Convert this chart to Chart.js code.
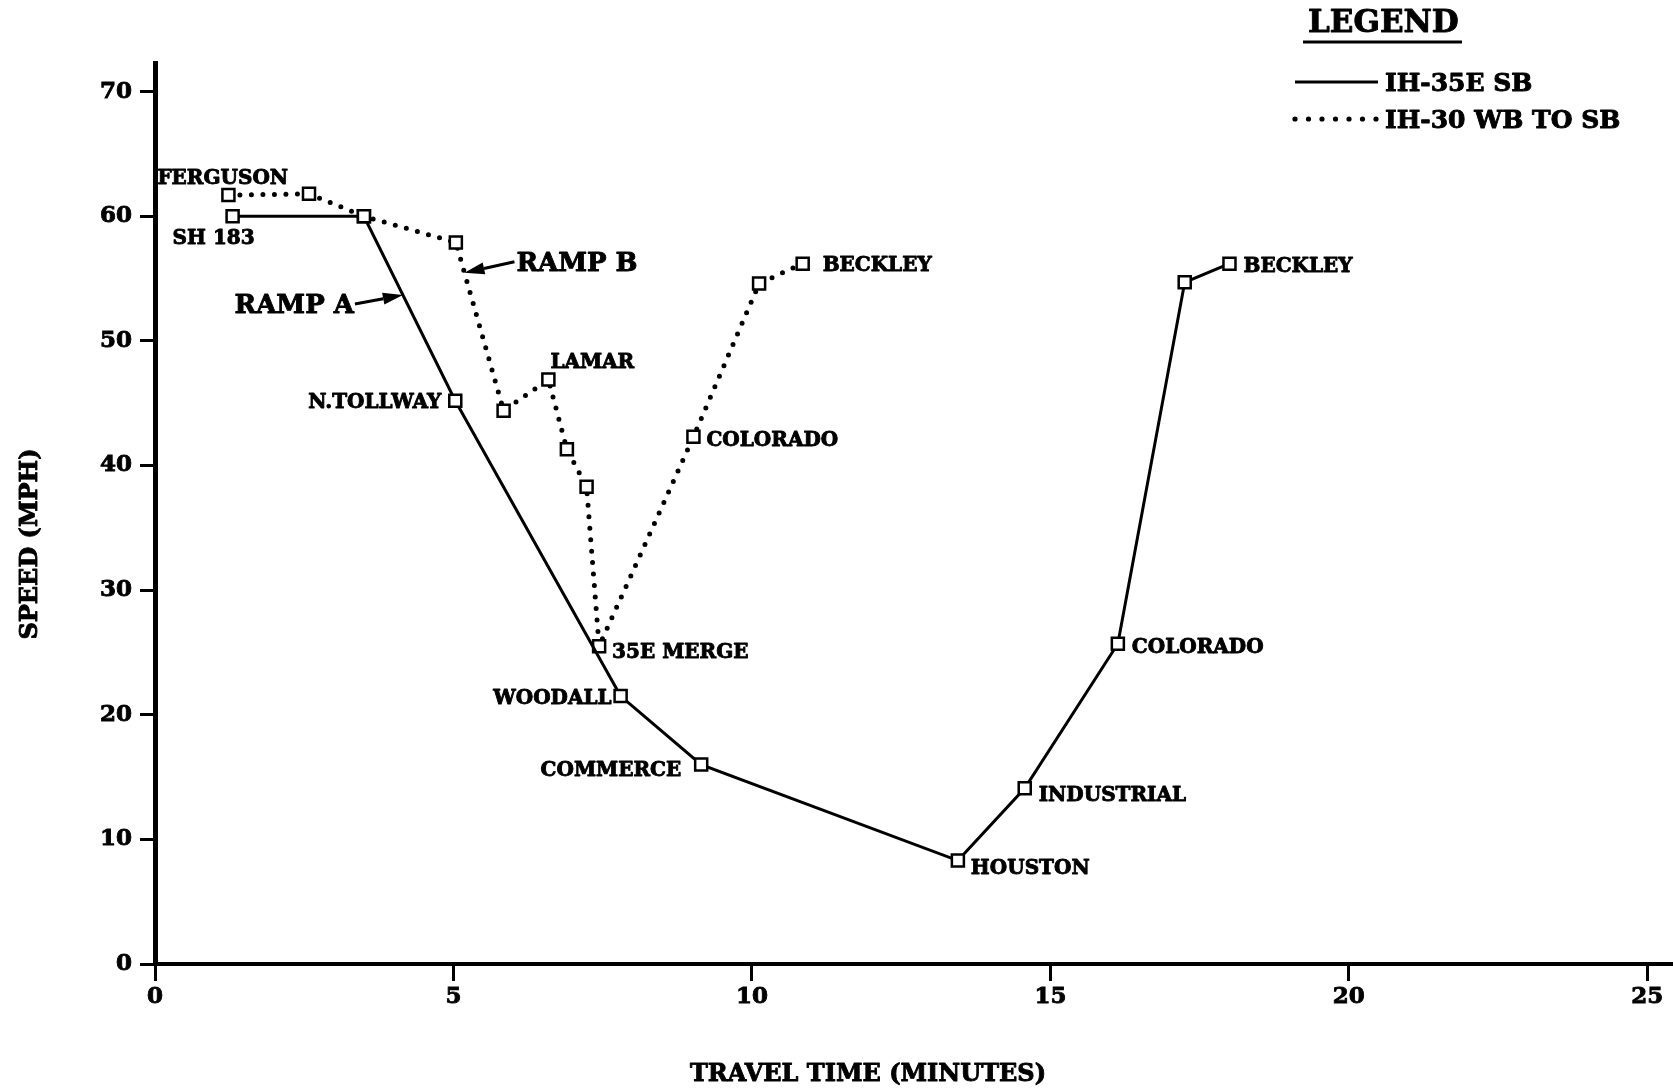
<!DOCTYPE html>
<html>
<head>
<meta charset="utf-8">
<script src="https://cdn.jsdelivr.net/npm/chart.js@4.4.1/dist/chart.umd.min.js"></script>
<style>
  html, body { margin: 0; padding: 0; background: #fff; }
  canvas { display: block; }
</style>
</head>
<body>
<canvas id="speedChart" width="1673" height="1090"></canvas>
<script>
// IH-35E southbound: travel time (minutes) and speed (mph) at each checkpoint
const ih35eTime  = [1.3, 3.5, 5.03, 7.8, 9.15, 13.45, 14.57, 16.13, 17.25, 18.0];
const ih35eSpeed = [60.0, 60.0, 45.2, 21.5, 16.0, 8.3, 14.1, 25.7, 54.7, 56.2];
const ih35eNames = ['SH 183', '', 'N.TOLLWAY', 'WOODALL', 'COMMERCE', 'HOUSTON', 'INDUSTRIAL', 'COLORADO', '', 'BECKLEY'];

// IH-30 westbound to southbound
const ih30Time  = [1.23, 2.58, 3.5, 5.04, 5.84, 6.59, 6.9, 7.23, 7.44, 9.02, 10.12, 10.85];
const ih30Speed = [61.7, 61.8, 60.0, 57.9, 44.4, 46.9, 41.3, 38.3, 25.5, 42.3, 54.6, 56.2];
const ih30Names = ['FERGUSON', '', '', '', '', 'LAMAR', '', '', '35E MERGE', 'COLORADO', '', 'BECKLEY'];

const seriesNames = ['IH-35E SB', 'IH-30 WB TO SB'];
const xTickValues = [0, 5, 10, 15, 20, 25];
const yTickValues = [0, 10, 20, 30, 40, 50, 60, 70];

// Where each checkpoint name sits relative to its marker
const labelPlacement = [
  {
    'SH 183':     { dx: -19, dy: 20, align: 'center' },
    'N.TOLLWAY':  { dx: -14, dy: 0,  align: 'right' },
    'WOODALL':    { dx: -9,  dy: 1,  align: 'right' },
    'COMMERCE':   { dx: -20, dy: 4,  align: 'right' },
    'HOUSTON':    { dx: 13,  dy: 6,  align: 'left' },
    'INDUSTRIAL': { dx: 14,  dy: 5,  align: 'left' },
    'COLORADO':   { dx: 14,  dy: 2,  align: 'left' },
    'BECKLEY':    { dx: 14,  dy: 1,  align: 'left' }
  },
  {
    'FERGUSON':   { dx: -71, dy: -18, align: 'left' },
    'LAMAR':      { dx: 2,   dy: -19, align: 'left' },
    '35E MERGE':  { dx: 13,  dy: 4,   align: 'left' },
    'COLORADO':   { dx: 13,  dy: 2,   align: 'left' },
    'BECKLEY':    { dx: 20,  dy: 0,   align: 'left' }
  }
];

// Ramp call-outs: arrow tip lies on a segment of a series
const rampNotes = [
  { text: 'RAMP A', dataset: 0, seg: 1, t: 0.427, tail: [-48, 9],  textSide: 'left' },
  { text: 'RAMP B', dataset: 1, seg: 3, t: 0.18,  tail: [50, -11], textSide: 'right' }
];

const FONT = '"DejaVu Serif", "Liberation Serif", serif';

// bold text placed by the vertical middle of its capitals, with a thin outline for weight
function capText(ctx, text, x, capMidY, size, align) {
  ctx.font = 'bold ' + size + 'px ' + FONT;
  ctx.textAlign = align;
  ctx.textBaseline = 'alphabetic';
  const y = capMidY + 0.365 * size;
  ctx.lineWidth = 0.9;
  ctx.lineJoin = 'round';
  ctx.strokeText(text, x, y);
  ctx.fillText(text, x, y);
}

function arrow(ctx, x0, y0, x1, y1) {
  const ang = Math.atan2(y1 - y0, x1 - x0);
  const headLen = 20, headHalf = 6;
  const bx = x1 - headLen * Math.cos(ang), by = y1 - headLen * Math.sin(ang);
  ctx.lineWidth = 3;
  ctx.beginPath();
  ctx.moveTo(x0, y0);
  ctx.lineTo(bx, by);
  ctx.stroke();
  ctx.beginPath();
  ctx.moveTo(x1, y1);
  ctx.lineTo(bx + headHalf * Math.sin(ang), by - headHalf * Math.cos(ang));
  ctx.lineTo(bx - headHalf * Math.sin(ang), by + headHalf * Math.cos(ang));
  ctx.closePath();
  ctx.fill();
}

const annotations = {
  id: 'annotations',
  afterDatasetsDraw(chart) {
    const ctx = chart.ctx;
    ctx.save();
    ctx.fillStyle = '#000';
    ctx.strokeStyle = '#000';

    // checkpoint names
    [ih35eNames, ih30Names].forEach((names, di) => {
      const pts = chart.getDatasetMeta(di).data;
      names.forEach((name, i) => {
        if (!name) return;
        const pl = labelPlacement[di][name];
        capText(ctx, name, pts[i].x + pl.dx, pts[i].y + pl.dy, 20, pl.align);
      });
    });

    // ramp arrows
    rampNotes.forEach(n => {
      const pts = chart.getDatasetMeta(n.dataset).data;
      const a = pts[n.seg], b = pts[n.seg + 1];
      const tipX = a.x + (b.x - a.x) * n.t;
      const tipY = a.y + (b.y - a.y) * n.t;
      const tx = tipX + n.tail[0], ty = tipY + n.tail[1];
      arrow(ctx, tx, ty, tipX, tipY);
      if (n.textSide === 'left') capText(ctx, n.text, tx - 1, ty - 1, 26, 'right');
      else capText(ctx, n.text, tx + 2, ty, 26, 'left');
    });

    // axis titles
    capText(ctx, 'TRAVEL TIME (MINUTES)', 868, 1072, 24, 'center');
    ctx.save();
    ctx.translate(28, 544);
    ctx.rotate(-Math.PI / 2);
    capText(ctx, 'SPEED (MPH)', 0, 0, 24, 'center');
    ctx.restore();

    // legend
    capText(ctx, 'LEGEND', 1308, 21, 31, 'left');
    ctx.lineWidth = 3;
    ctx.beginPath();
    ctx.moveTo(1303, 42);
    ctx.lineTo(1462, 42);
    ctx.stroke();

    ctx.lineWidth = 3;
    ctx.beginPath();
    ctx.moveTo(1295, 82);
    ctx.lineTo(1378, 82);
    ctx.stroke();
    capText(ctx, seriesNames[0], 1385, 82, 25, 'left');

    for (let k = 0; k < 7; k++) {
      ctx.beginPath();
      ctx.arc(1295 + k * 13.5, 119, 2.6, 0, Math.PI * 2);
      ctx.fill();
    }
    capText(ctx, seriesNames[1], 1385, 119, 25, 'left');

    ctx.restore();
  }
};

const pointStyleOpts = {
  pointStyle: 'rect',
  pointRadius: 8.5,
  pointBorderWidth: 2.5,
  pointBackgroundColor: '#fff',
  pointBorderColor: '#000'
};

const tickFont = { family: FONT, size: 23, weight: 'bold' };

new Chart(document.getElementById('speedChart'), {
  type: 'line',
  data: {
    datasets: [
      Object.assign({
        label: seriesNames[0],
        data: ih35eTime.map((x, i) => ({ x: x, y: ih35eSpeed[i] })),
        borderColor: '#000',
        borderWidth: 3,
        tension: 0,
        fill: false
      }, pointStyleOpts),
      Object.assign({
        label: seriesNames[1],
        data: ih30Time.map((x, i) => ({ x: x, y: ih30Speed[i] })),
        borderColor: '#000',
        borderWidth: 5,
        borderDash: [0, 11.5],
        borderCapStyle: 'round',
        tension: 0,
        fill: false
      }, pointStyleOpts)
    ]
  },
  options: {
    responsive: false,
    animation: false,
    layout: { autoPadding: false, padding: { top: 63, left: 0, right: 0, bottom: 0 } },
    plugins: { legend: { display: false }, tooltip: { enabled: false } },
    scales: {
      x: {
        type: 'linear',
        min: 0,
        max: 25.43,
        afterBuildTicks: s => { s.ticks = xTickValues.map(v => ({ value: v })); },
        afterFit: s => { s.height = 126; s.paddingLeft = 0; s.paddingRight = 0; },
        grid: { drawOnChartArea: false, drawTicks: true, tickLength: 17, tickWidth: 3, tickColor: '#000' },
        border: { display: true, width: 4, color: '#000' },
        ticks: { color: '#000', padding: 2, maxRotation: 0, font: tickFont,
                 textStrokeColor: '#000', textStrokeWidth: 0.9 }
      },
      y: {
        type: 'linear',
        min: 0,
        max: 72.3,
        afterBuildTicks: s => { s.ticks = yTickValues.map(v => ({ value: v })); },
        afterFit: s => { s.width = 155; s.paddingTop = 0; s.paddingBottom = 0; },
        grid: { drawOnChartArea: false, drawTicks: true, tickLength: 15, tickWidth: 3, tickColor: '#000' },
        border: { display: true, width: 5, color: '#000' },
        ticks: { color: '#000', padding: 8, font: tickFont,
                 textStrokeColor: '#000', textStrokeWidth: 0.9 }
      }
    }
  },
  plugins: [annotations]
});
</script>
</body>
</html>
